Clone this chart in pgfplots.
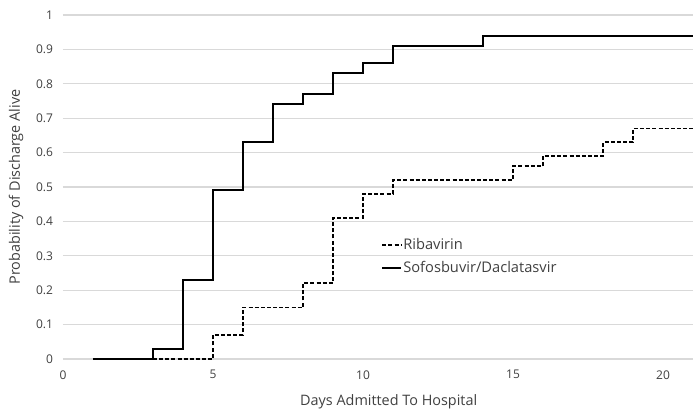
\documentclass[border=0pt]{standalone}
\usepackage{pgfplots}
\pgfplotsset{compat=1.18}
\usepackage{fontspec}
\setmainfont{Open Sans}
\definecolor{gridc}{HTML}{D9D9D9}
\definecolor{txtc}{HTML}{404040}
\begin{document}
\begin{tikzpicture}
\useasboundingbox (-47.25pt,-42pt) rectangle (477.75pt,269.25pt);
\begin{axis}[
  at={(0,0)}, anchor=south west,
  scale only axis, width=472.5pt, height=258pt,
  xmin=0, xmax=21, ymin=0, ymax=1,
  xtick={0,5,10,15,20},
  ytick={0,0.1,0.2,0.3,0.4,0.5,0.6,0.7,0.8,0.9,1},
  yticklabels={0,0.1,0.2,0.3,0.4,0.5,0.6,0.7,0.8,0.9,1},
  ymajorgrids, grid style={gridc, line width=0.8pt},
  separate axis lines,
  axis x line=bottom, axis y line=left,
  y axis line style={draw=none},
  x axis line style={-, draw=gridc, line width=0.8pt},
  major tick length=0pt, tick style={draw=none},
  /pgf/number format/assume math mode=true,
  ticklabel style={font=\fontsize{9}{10}\selectfont, text=txtc},
  xticklabel style={yshift=-5pt},
  yticklabel style={xshift=-4pt},
  xlabel={Days Admitted To Hospital},
  ylabel={Probability of Discharge Alive},
  label style={font=\fontsize{10.8}{12}\selectfont, text=txtc},
  xlabel style={at={(axis description cs:0.517,-0.125)}, anchor=center},
  ylabel style={at={(axis description cs:-0.0746,0.5)}, anchor=center},
  legend style={draw=none, fill=none, at={(axis cs:10.6,0.298)}, anchor=west,
    font=\fontsize{11}{13}\selectfont, text=txtc, row sep=3pt,
    inner sep=0pt, nodes={inner xsep=1pt}},
  legend cell align=left,
  legend image code/.code={\draw[#1] (0pt,0pt) -- (14pt,0pt);},
]
\addplot[const plot, black, line width=1.3pt, dash pattern=on 3pt off 1.6pt] coordinates {
(3,0) (5,0.07) (6,0.15) (8,0.22) (9,0.41) (10,0.48) (11,0.52) (15,0.56) (16,0.59) (18,0.63) (19,0.67) (21,0.67)};
\addlegendentry{Ribavirin}
\addplot[const plot, black, line width=1.5pt] coordinates {
(1,0) (3,0.03) (4,0.23) (5,0.49) (6,0.63) (7,0.74) (8,0.77) (9,0.83) (10,0.86) (11,0.91) (14,0.94) (21,0.94)};
\addlegendentry{Sofosbuvir/Daclatasvir}
\end{axis}
\end{tikzpicture}
\end{document}
